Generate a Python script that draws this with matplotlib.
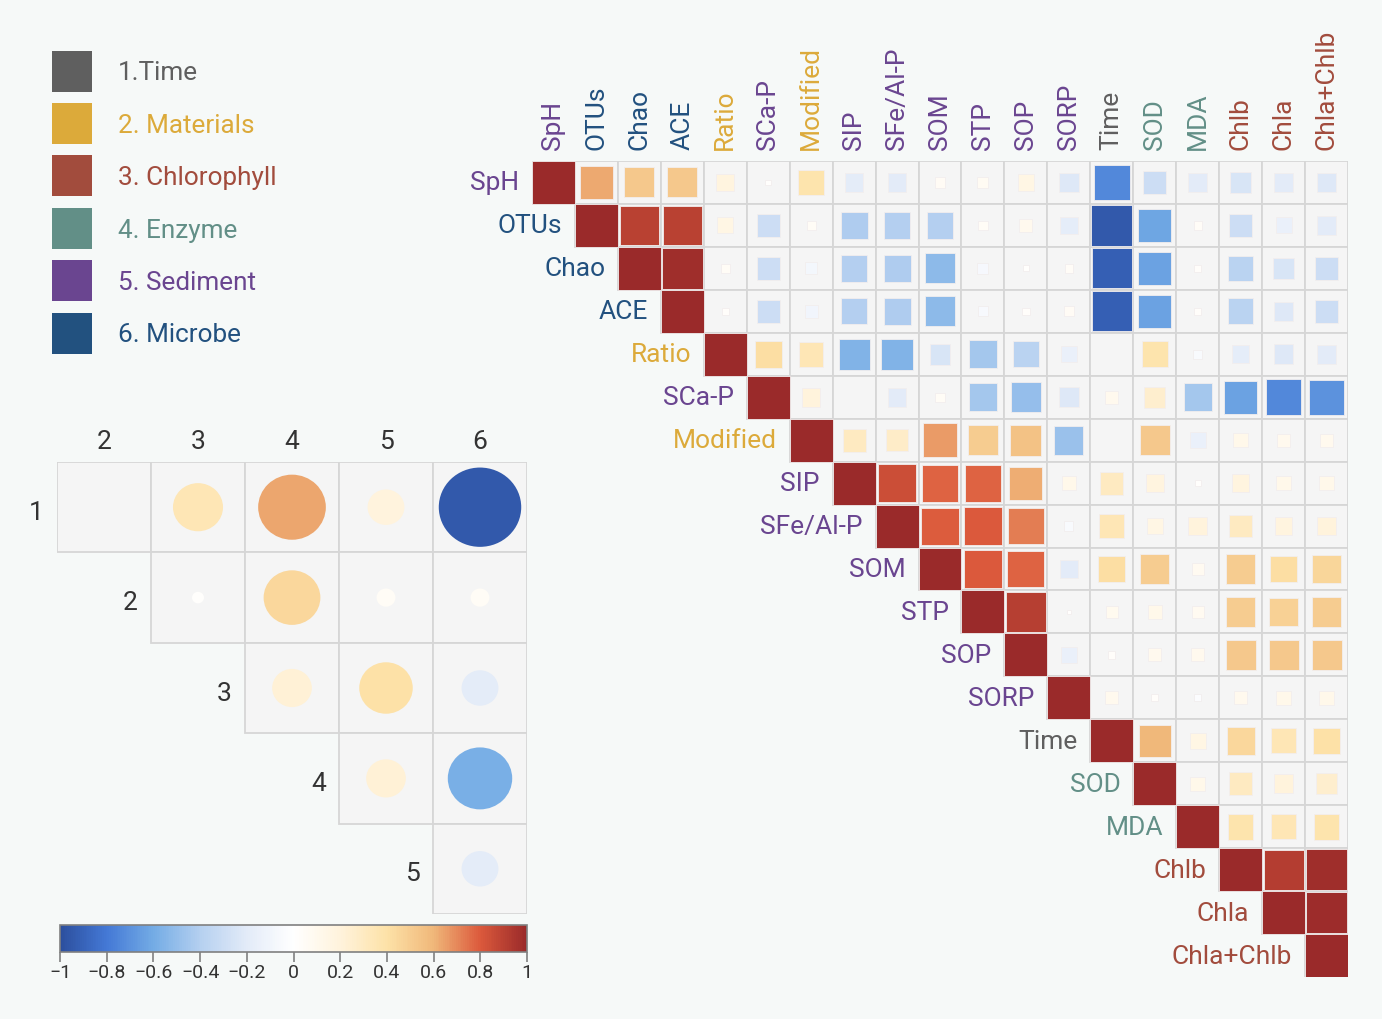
import matplotlib
matplotlib.use("Agg")
import matplotlib.pyplot as plt
import numpy as np
from matplotlib.colors import LinearSegmentedColormap, Normalize
from matplotlib.patches import Rectangle, Ellipse
from matplotlib.cm import ScalarMappable

plt.rcParams["font.family"] = ["Roboto", "DejaVu Sans"]

# ---- data -------------------------------------------------------------
variables = ["SpH", "OTUs", "Chao", "ACE", "Ratio", "SCa-P", "Modified", "SIP",
             "SFe/Al-P", "SOM", "STP", "SOP", "SORP", "Time", "SOD", "MDA",
             "Chlb", "Chla", "Chla+Chlb"]
var_group = [5, 6, 6, 6, 2, 5, 2, 5, 5, 5, 5, 5, 5, 1, 4, 4, 3, 3, 3]

# upper triangle, each row starts at the diagonal
corr_rows = [
    [1, 0.63, 0.52, 0.52, 0.18, 0.02, 0.38, -0.19, -0.20, 0.06, 0.07, 0.15, -0.22, -0.74, -0.30, -0.20, -0.25, -0.20, -0.22],
    [1, 0.90, 0.90, 0.15, -0.30, 0.05, -0.42, -0.40, -0.40, 0.05, 0.10, -0.18, -0.95, -0.62, 0.04, -0.30, -0.15, -0.20],
    [1, 0.98, 0.05, -0.30, -0.08, -0.40, -0.42, -0.52, -0.07, 0.02, 0.04, -0.92, -0.64, 0.03, -0.38, -0.25, -0.30],
    [1, 0.03, -0.30, -0.10, -0.40, -0.42, -0.52, -0.06, 0.03, 0.06, -0.92, -0.64, 0.03, -0.38, -0.22, -0.30],
    [1, 0.42, 0.35, -0.56, -0.56, -0.25, -0.45, -0.38, -0.15, 0.0, 0.38, -0.05, -0.18, -0.22, -0.20],
    [1, 0.20, 0.0, -0.20, 0.05, -0.45, -0.50, -0.22, 0.10, 0.25, -0.45, -0.64, -0.74, -0.70],
    [1, 0.30, 0.28, 0.66, 0.50, 0.55, -0.48, 0.0, 0.52, -0.15, 0.12, 0.10, 0.10],
    [1, 0.85, 0.78, 0.78, 0.62, 0.12, 0.30, 0.18, 0.02, 0.18, 0.12, 0.12],
    [1, 0.79, 0.80, 0.72, -0.05, 0.35, 0.15, 0.20, 0.30, 0.18, 0.20],
    [1, 0.80, 0.78, -0.20, 0.42, 0.50, 0.08, 0.50, 0.42, 0.46],
    [1, 0.91, 0.01, 0.09, 0.12, 0.08, 0.50, 0.48, 0.50],
    [1, -0.15, 0.03, 0.10, 0.10, 0.52, 0.52, 0.52],
    [1, 0.10, 0.03, -0.03, 0.10, 0.12, 0.12],
    [1, 0.60, 0.15, 0.45, 0.35, 0.40],
    [1, 0.12, 0.30, 0.20, 0.25],
    [1, 0.38, 0.35, 0.38],
    [1, 0.92, 0.98],
    [1, 0.99],
    [1],
]

group_names = ["1.Time", "2. Materials", "3. Chlorophyll", "4. Enzyme", "5. Sediment", "6. Microbe"]
group_colors = ["#5f5f5f", "#dcaa3a", "#a24c3d", "#628f87", "#6a4590", "#22517f"]

# group-level correlations: rows 1..5, columns 2..6
group_rows = [1, 2, 3, 4, 5]
group_cols = [2, 3, 4, 5, 6]
group_corr = [
    [0.0, 0.35, 0.64, 0.19, -0.95],
    [0.02, 0.45, 0.05, 0.05],
    [0.22, 0.40, -0.19],
    [0.22, -0.58],
    [-0.19],
]

cbar_ticks = [-1, -0.8, -0.6, -0.4, -0.2, 0, 0.2, 0.4, 0.6, 0.8, 1]

# ---- style ------------------------------------------------------------
bg = "#f6f9f8"
cell_face = "#f5f5f5"
cell_edge = "#d6d6d6"
cmap = LinearSegmentedColormap.from_list("corr", [
    (0.0, "#2c4f9e"), (0.1, "#4479d6"), (0.2, "#74ace5"), (0.3, "#b5d0f0"),
    (0.4, "#e3ebf8"), (0.5, "#ffffff"), (0.6, "#fff3dc"), (0.7, "#fde2a8"),
    (0.8, "#f0b87a"), (0.9, "#dc5a3c"), (1.0, "#9a2a2a")])
norm = Normalize(-1, 1)

n = len(variables)
corr = np.zeros((n, n))
for i, row in enumerate(corr_rows):
    corr[i, i:] = row

fig = plt.figure(figsize=(13.82, 10.20), dpi=100, facecolor=bg)

# ---- main matrix ------------------------------------------------------
ax = fig.add_axes([532 / 1382, 1 - 978 / 1020, 816 / 1382, 816 / 1020])
ax.set_xlim(0, n)
ax.set_ylim(n, 0)
ax.axis("off")

for i in range(n):
    for j in range(i, n):
        ax.add_patch(Rectangle((j, i), 1, 1, facecolor=cell_face,
                               edgecolor=cell_edge, lw=1.3, zorder=1))
for i in range(n):
    for j in range(i, n):
        r = corr[i, j]
        s = 1.0 if i == j else np.sqrt(abs(r)) * 0.97
        if s <= 0:
            continue
        ax.add_patch(Rectangle((j + 0.5 - s / 2, i + 0.5 - s / 2), s, s,
                               facecolor=cmap(norm(r)), edgecolor="#f2eeee",
                               lw=0.6, zorder=2))

for k, name in enumerate(variables):
    c = group_colors[var_group[k] - 1]
    ax.text(k - 0.3, k + 0.5, name, ha="right", va="center",
            fontsize=19, color=c, clip_on=False)
    ax.text(k + 0.5, -0.28, name, ha="center", va="bottom", rotation=90,
            fontsize=19, color=c, clip_on=False)

# ---- legend -----------------------------------------------------------
lax = fig.add_axes([0, 0, 1, 1])
lax.set_xlim(0, 1382)
lax.set_ylim(1020, 0)
lax.axis("off")
lax.set_zorder(-1)
for k, (name, c) in enumerate(zip(group_names, group_colors)):
    yc = 72 + k * 52.4
    lax.add_patch(Rectangle((52, yc - 20.5), 40, 41, facecolor=c, edgecolor="none"))
    lax.text(118, yc + 1.5, name, ha="left", va="center", fontsize=18.8, color=c)

# ---- group matrix -----------------------------------------------------
gax = fig.add_axes([57 / 1382, 1 - 915 / 1020, 470 / 1382, 452 / 1020])
m = len(group_cols)
gax.set_xlim(0, m)
gax.set_ylim(m, 0)
gax.axis("off")
for i, row in enumerate(group_corr):
    start = m - len(row)
    for k, r in enumerate(row):
        j = start + k
        gax.add_patch(Rectangle((j, i), 1, 1, facecolor=cell_face,
                                edgecolor=cell_edge, lw=1.3, zorder=1))
        d = 0.9 * np.sqrt(abs(r))
        if d > 0:
            gax.add_patch(Ellipse((j + 0.5, i + 0.5), d, d,
                                  facecolor=cmap(norm(r)), edgecolor="none", zorder=2))
    gax.text(start - 0.14, i + 0.55, str(group_rows[i]), ha="right", va="center",
             fontsize=19, color="#333333")
for j, lab in enumerate(group_cols):
    gax.text(j + 0.5, -0.1, str(lab), ha="center", va="bottom",
             fontsize=19, color="#333333")

# ---- colorbar ---------------------------------------------------------
cax = fig.add_axes([60 / 1382, 1 - 953 / 1020, 467 / 1382, 27 / 1020])
cb = fig.colorbar(ScalarMappable(norm=norm, cmap=cmap), cax=cax,
                  orientation="horizontal", ticks=cbar_ticks)
cb.outline.set_edgecolor("#808080")
cb.outline.set_linewidth(1.2)
cb.ax.set_xticklabels([("\u2212" + f"{abs(t):g}") if t < 0 else f"{t:g}" for t in cbar_ticks])
cb.ax.tick_params(length=7, width=1.2, color="#808080", labelsize=14,
                  labelcolor="#333333", pad=1)

fig.savefig("out.png", dpi=100, facecolor=bg)
